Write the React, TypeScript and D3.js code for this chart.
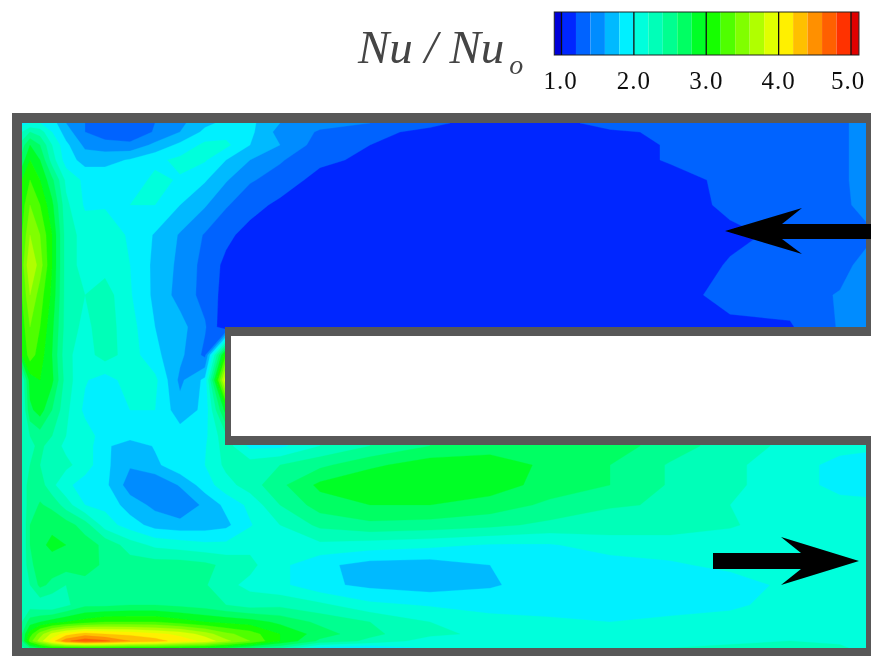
import React from 'react'
import * as d3 from 'd3'

// grid node positions, in picture pixels of the test plate
const xGrid = [22, 30, 40, 52, 66, 85, 105, 130, 155, 180, 205, 226, 250, 280, 320, 370, 430, 490, 550, 610, 670, 730, 790, 840, 866]
const yGrid = [123, 132, 145, 160, 180, 205, 235, 265, 295, 327, 355, 380, 410, 436, 446, 465, 485, 505, 525, 545, 565, 585, 605, 622, 634, 641, 648]

// Nu/Nu0, one row per yGrid entry
const nuRows = [
  [1.9, 2.0, 2.0, 1.9, 1.6, 1.4, 1.28, 1.28, 1.4, 1.55, 1.75, 1.85, 1.85, 1.6, 1.45, 1.4, 1.25, 1.1, 1.15, 1.25, 1.3, 1.3, 1.3, 1.32, 1.55],
  [2.2, 2.4, 2.3, 2.0, 1.7, 1.4, 1.25, 1.25, 1.42, 1.6, 1.85, 1.92, 1.85, 1.52, 1.38, 1.25, 1.15, 1.1, 1.1, 1.18, 1.22, 1.2, 1.2, 1.32, 1.55],
  [2.5, 2.8, 2.6, 2.2, 1.85, 1.55, 1.5, 1.45, 1.65, 1.85, 2.05, 2.05, 1.8, 1.6, 1.3, 1.2, 1.1, 1.05, 1.05, 1.1, 1.22, 1.25, 1.25, 1.32, 1.55],
  [2.7, 3.0, 2.8, 2.3, 1.9, 1.72, 1.72, 1.82, 1.95, 2.05, 2.02, 1.8, 1.6, 1.42, 1.25, 1.15, 1.05, 1.05, 1.05, 1.1, 1.22, 1.28, 1.28, 1.32, 1.55],
  [3.0, 3.2, 3.0, 2.65, 2.15, 1.95, 1.95, 1.88, 2.05, 1.98, 1.82, 1.62, 1.42, 1.32, 1.12, 1.05, 1.05, 1.05, 1.05, 1.08, 1.12, 1.25, 1.28, 1.32, 1.55],
  [3.1, 3.4, 3.2, 2.85, 2.25, 1.97, 1.98, 2.0, 2.0, 1.8, 1.62, 1.42, 1.28, 1.15, 1.08, 1.03, 1.03, 1.03, 1.05, 1.1, 1.08, 1.25, 1.27, 1.32, 1.5],
  [3.2, 3.6, 3.4, 3.0, 2.3, 2.12, 2.12, 1.97, 1.78, 1.58, 1.38, 1.25, 1.12, 1.05, 1.03, 1.03, 1.03, 1.03, 1.03, 1.03, 1.05, 1.15, 1.25, 1.27, 1.32],
  [3.3, 3.8, 3.5, 3.0, 2.3, 2.12, 2.12, 2.0, 1.75, 1.55, 1.33, 1.15, 1.08, 1.03, 1.03, 1.03, 1.03, 1.03, 1.03, 1.03, 1.05, 1.22, 1.24, 1.3, 1.5],
  [3.2, 3.6, 3.3, 2.95, 2.3, 2.2, 2.3, 2.02, 1.75, 1.52, 1.33, 1.12, 1.03, 1.03, 1.05, 1.05, 1.05, 1.05, 1.05, 1.05, 1.05, 1.32, 1.28, 1.42, 1.55],
  [3.1, 3.4, 3.2, 2.85, 2.3, 2.15, 2.3, 2.08, 1.8, 1.68, 1.42, 1.03, 1.03, 1.03, 1.03, 1.05, 1.05, 1.05, 1.05, 1.1, 1.1, 1.12, 1.18, 1.42, 1.5],
  [3.0, 3.3, 3.1, 2.8, 2.25, 2.1, 2.3, 2.1, 1.85, 1.65, 1.35, 3.2, 1.03, 1.03, 1.03, 1.05, 1.05, 1.05, 1.05, 1.1, 1.1, 1.12, 1.18, 1.42, 1.5],
  [2.2, 2.9, 3.0, 2.85, 2.3, 2.02, 1.9, 2.1, 2.05, 1.55, 1.85, 4.0, 2.0, 2.0, 2.0, 2.0, 2.0, 2.0, 2.0, 2.0, 2.0, 2.0, 2.0, 2.0, 2.0],
  [2.15, 2.75, 2.9, 2.6, 2.25, 1.95, 1.9, 2.0, 2.0, 1.68, 1.85, 2.9, 2.0, 2.0, 2.0, 2.0, 2.0, 2.0, 2.0, 2.0, 2.0, 2.0, 2.0, 2.0, 2.0],
  [2.2, 2.4, 2.5, 2.4, 2.2, 2.1, 1.9, 1.9, 1.95, 1.9, 1.95, 2.35, 1.95, 1.95, 2.2, 2.4, 2.6, 2.7, 2.75, 2.7, 2.5, 2.3, 2.15, 2.05, 2.05],
  [2.25, 2.35, 2.45, 2.3, 2.15, 2.1, 1.85, 1.65, 1.82, 1.9, 1.98, 2.3, 1.95, 1.95, 2.2, 2.4, 2.6, 2.7, 2.75, 2.7, 2.5, 2.3, 2.15, 2.05, 2.05],
  [2.3, 2.4, 2.4, 2.3, 2.25, 2.1, 1.85, 1.62, 1.75, 1.95, 2.0, 2.25, 2.3, 2.4, 2.55, 2.75, 2.92, 2.92, 2.75, 2.6, 2.38, 2.25, 2.07, 1.95, 1.9],
  [2.25, 2.5, 2.5, 2.25, 2.05, 1.9, 1.85, 1.5, 1.42, 1.62, 1.9, 2.12, 2.3, 2.55, 2.85, 3.0, 3.0, 2.9, 2.72, 2.6, 2.38, 2.25, 2.07, 1.95, 1.92],
  [2.25, 2.5, 2.62, 2.55, 2.3, 2.0, 1.95, 1.7, 1.55, 1.42, 1.65, 1.85, 2.05, 2.4, 2.7, 2.8, 2.8, 2.72, 2.55, 2.42, 2.38, 2.2, 2.1, 2.05, 2.05],
  [2.2, 2.6, 2.7, 2.75, 2.7, 2.5, 2.1, 1.9, 1.72, 1.68, 1.7, 1.75, 1.98, 2.2, 2.45, 2.55, 2.52, 2.45, 2.35, 2.3, 2.3, 2.22, 2.1, 2.1, 2.1],
  [2.2, 2.6, 2.75, 2.85, 2.8, 2.7, 2.55, 2.3, 2.15, 2.1, 2.05, 2.05, 2.15, 2.1, 2.15, 2.1, 2.05, 1.98, 1.98, 2.1, 2.1, 2.1, 2.1, 2.1, 2.1],
  [2.2, 2.55, 2.7, 2.7, 2.7, 2.72, 2.55, 2.5, 2.5, 2.5, 2.45, 2.35, 2.25, 2.05, 1.85, 1.72, 1.7, 1.8, 1.88, 1.9, 1.97, 2.05, 2.1, 2.1, 2.1],
  [2.2, 2.4, 2.65, 2.55, 2.4, 2.5, 2.55, 2.55, 2.55, 2.5, 2.42, 2.25, 2.15, 2.05, 1.85, 1.75, 1.7, 1.78, 1.88, 1.85, 1.85, 1.9, 2.05, 2.1, 2.1],
  [2.25, 2.3, 2.25, 2.2, 2.35, 2.55, 2.55, 2.6, 2.6, 2.55, 2.5, 2.4, 2.3, 2.35, 2.25, 2.05, 1.98, 1.9, 1.88, 1.85, 1.85, 1.95, 2.1, 2.1, 2.1],
  [2.4, 2.7, 2.8, 2.9, 3.0, 3.1, 3.2, 3.2, 3.2, 3.1, 3.0, 2.95, 2.9, 2.75, 2.55, 2.4, 2.2, 2.1, 2.05, 2.0, 2.08, 2.1, 2.1, 2.1, 2.1],
  [2.6, 3.1, 3.5, 3.85, 4.1, 4.3, 4.2, 4.15, 4.05, 3.95, 3.7, 3.45, 3.3, 3.0, 2.7, 2.45, 2.25, 2.15, 2.1, 2.1, 2.1, 2.1, 2.1, 2.1, 2.1],
  [2.6, 3.3, 3.7, 4.1, 4.55, 4.75, 4.65, 4.4, 4.3, 4.1, 3.95, 3.65, 3.4, 3.0, 2.55, 2.35, 2.1, 2.1, 2.1, 2.1, 2.15, 2.15, 2.2, 2.15, 2.1],
  [2.3, 2.6, 2.8, 3.0, 3.0, 3.0, 3.0, 3.0, 3.0, 2.95, 2.9, 2.8, 2.6, 2.4, 1.9, 1.8, 2.0, 2.1, 2.1, 2.15, 2.2, 2.25, 2.3, 2.25, 2.1],
]

// contour levels and the colour of each band
const levels = [0, 1.0, 1.2, 1.4, 1.6, 1.8, 2.0, 2.2, 2.4, 2.6, 2.8, 3.0, 3.2, 3.4, 3.6, 3.8, 4.0, 4.2, 4.4, 4.6, 4.8, 5.0]
const bandColors = [
  '#0000d8', '#0028ff', '#0064ff', '#008cff', '#00baff', '#00f0ff', '#00ffdc', '#00ffb8', '#00ff90', '#00ff64', '#00ff28',
  '#18ff00', '#50ff00', '#80ff00', '#b0ff00', '#e0ff00', '#fff000', '#ffc000', '#ff9000', '#ff6000', '#ff3000', '#e00000',
]
const legendTicks = [1, 2, 3, 4, 5]

const WALL = '#595959'

const App = () => {
  const nx = xGrid.length
  const ny = yGrid.length

  // d3.contours puts node i at i + 0.5, piecewise scales take that to pixels
  const xs = d3.scaleLinear().domain(xGrid.map((_, i) => i + 0.5)).range(xGrid).clamp(true)
  const ys = d3.scaleLinear().domain(yGrid.map((_, i) => i + 0.5)).range(yGrid).clamp(true)

  const bands = d3.contours().size([nx, ny]).thresholds(levels)(nuRows.flat())
  const path = d3.geoPath(
    d3.geoTransform({
      point(x, y) {
        this.stream.point(xs(x), ys(y))
      },
    })
  )

  const legendX = d3.scaleLinear().domain([1, 5]).range([561.5, 851])
  const legendEdges = [0.9, ...levels.slice(1), 5.11]

  const flowLine = d3.line()

  return (
    <svg width={871} height={656} style={{ position: 'absolute', left: 0, top: 0, background: '#fff' }}>
      <defs>
        <filter id="soft" x="-2%" y="-2%" width="104%" height="104%">
          <feGaussianBlur stdDeviation="0.6" />
        </filter>
      </defs>
      <g filter="url(#soft)">
        <g>
          {bands.map((b, i) => (
            <path key={i} d={path(b)} fill={bandColors[i]} stroke={bandColors[i]} strokeWidth={0.3} />
          ))}
        </g>

        {/* slot in the middle of the U */}
        <rect x={226} y={327} width={645} height={118} fill="#fff" />

        {/* channel walls */}
        <g fill={WALL}>
          <rect x={12} y={113} width={859} height={10} />
          <rect x={12} y={113} width={10} height={543} />
          <rect x={12} y={648} width={859} height={8} />
          <rect x={866} y={113} width={5} height={223} />
          <rect x={866} y={436} width={5} height={220} />
          <rect x={225} y={327} width={646} height={9} />
          <rect x={225} y={436} width={646} height={9} />
          <rect x={225} y={327} width={6} height={118} />
        </g>

        {/* flow direction */}
        <path
          d={flowLine([[871, 224], [782, 224], [802, 208], [725, 231], [802, 254], [782, 239], [871, 239]]) + 'Z'}
          fill="#000"
        />
        <path
          d={flowLine([[713, 553], [801, 553], [781, 537], [859, 561], [781, 585], [801, 569], [713, 569]]) + 'Z'}
          fill="#000"
        />

        {/* legend */}
        <g>
          {bandColors.map((c, i) => (
            <rect
              key={c}
              x={legendX(legendEdges[i])}
              y={12}
              width={legendX(legendEdges[i + 1]) - legendX(legendEdges[i])}
              height={43}
              fill={c}
            />
          ))}
          <rect x={legendX(0.9)} y={12} width={legendX(5.11) - legendX(0.9)} height={43} fill="none" stroke="#222" strokeWidth={1} />
          {legendTicks.map((t) => (
            <line key={t} x1={legendX(t)} x2={legendX(t)} y1={12} y2={55} stroke="#111" strokeWidth={1.3} />
          ))}
          {legendTicks.map((t) => (
            <text
              key={t}
              x={legendX(t) - (t === 1 ? 1 : t === 5 ? 3 : 0)}
              y={89}
              textAnchor="middle"
              fontFamily="'Liberation Serif'"
              fontSize={25}
              letterSpacing={1}
              fill="#111"
            >
              {t.toFixed(1)}
            </text>
          ))}
        </g>

        <text x={358} y={63} fontFamily="'Liberation Serif'" fontStyle="italic" fontSize={47} fill="#444">
          Nu / Nu
          <tspan fontSize={28} dx={5} dy={11}>o</tspan>
        </text>
      </g>
    </svg>
  )
}

export default App
